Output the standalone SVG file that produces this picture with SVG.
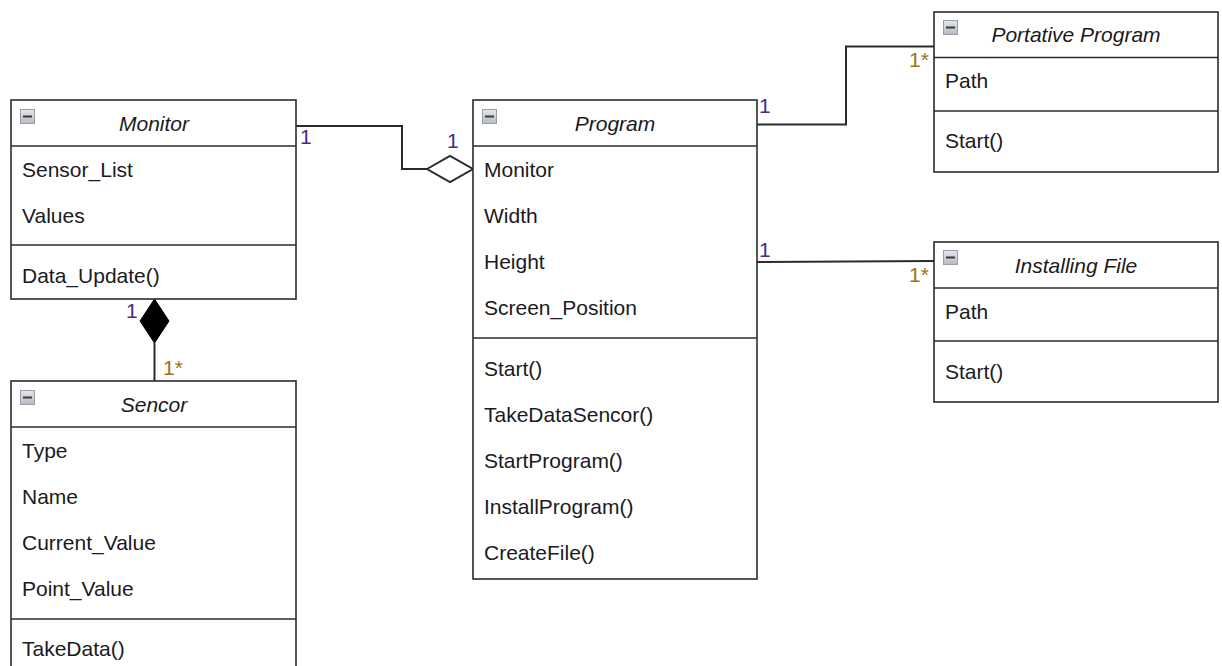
<svg xmlns="http://www.w3.org/2000/svg" width="1222" height="666" viewBox="0 0 1222 666">
  <defs>
    <linearGradient id="iconFill" x1="0" y1="0" x2="0" y2="1">
      <stop offset="0" stop-color="#e4e6ea"/>
      <stop offset="1" stop-color="#b7bbc2"/>
    </linearGradient>
    <!-- collapse toggle shown in each class header -->
    <g id="toggle">
      <rect x="0.5" y="0.5" width="14" height="14" fill="url(#iconFill)" stroke="#9a9ea6" stroke-width="1"/>
      <rect x="3" y="6.5" width="9" height="2" fill="#3a3a3a"/>
    </g>
  </defs>
  <style>
    .box { fill: #ffffff; stroke: #2b2b2b; stroke-width: 1.6; }
    .sep { stroke: #2b2b2b; stroke-width: 1.6; }
    .title { font-family: "Liberation Sans", Arial, sans-serif; font-size: 21px; font-style: italic; fill: #1a1a22; text-anchor: middle; }
    .item { font-family: "Liberation Sans", Arial, sans-serif; font-size: 21px; fill: #1a1a22; }
    .link { fill: none; stroke: #2b2b2b; stroke-width: 2; }
    .one { font-family: "Liberation Sans", Arial, sans-serif; font-size: 21px; fill: #4a2a8a; }
    .many { font-family: "Liberation Sans", Arial, sans-serif; font-size: 21px; fill: #9a7418; }
  </style>
  <rect width="1222" height="666" fill="#ffffff"/>

  <!-- connectors -->
  <g id="connectors">
    <!-- Monitor to Program: aggregation -->
    <polyline class="link" points="296,126 402,126 402,169 427,169"/>
    <polygon points="427,169 450,156 473,169 450,182" fill="#ffffff" stroke="#2b2b2b" stroke-width="2"/>
    <text class="one" x="300" y="144">1</text>
    <text class="one" x="447" y="148">1</text>

    <!-- Monitor to Sencor: composition -->
    <line class="link" x1="154.5" y1="343" x2="154.5" y2="381"/>
    <polygon points="154.5,299 169,321 154.5,343 140,321" fill="#000000" stroke="#000000" stroke-width="1"/>
    <text class="one" x="126" y="318">1</text>
    <text class="many" x="163" y="375">1*</text>

    <!-- Program to Portative Program -->
    <polyline class="link" points="757,124.5 846,124.5 846,46.5 934,46.5"/>
    <text class="one" x="759" y="113">1</text>
    <text class="many" x="909" y="67">1*</text>

    <!-- Program to Installing File -->
    <line class="link" x1="757" y1="262" x2="934" y2="261"/>
    <text class="one" x="759" y="257">1</text>
    <text class="many" x="909" y="282">1*</text>
  </g>

  <!-- Monitor -->
  <g id="monitor">
    <rect class="box" x="11" y="100" width="285" height="199"/>
    <line class="sep" x1="11" y1="146" x2="296" y2="146"/>
    <line class="sep" x1="11" y1="245" x2="296" y2="245"/>
    <use href="#toggle" x="20" y="109"/>
    <text class="title" x="154" y="131">Monitor</text>
    <text class="item" x="22" y="177">Sensor_List</text>
    <text class="item" x="22" y="223">Values</text>
    <text class="item" x="22" y="283">Data_Update()</text>
  </g>

  <!-- Sencor -->
  <g id="sencor">
    <rect class="box" x="11" y="381" width="285" height="300"/>
    <line class="sep" x1="11" y1="427" x2="296" y2="427"/>
    <line class="sep" x1="11" y1="619" x2="296" y2="619"/>
    <use href="#toggle" x="20" y="390"/>
    <text class="title" x="154" y="412">Sencor</text>
    <text class="item" x="22" y="458">Type</text>
    <text class="item" x="22" y="504">Name</text>
    <text class="item" x="22" y="550">Current_Value</text>
    <text class="item" x="22" y="596">Point_Value</text>
    <text class="item" x="22" y="656">TakeData()</text>
  </g>

  <!-- Program -->
  <g id="program">
    <rect class="box" x="473" y="100" width="284" height="479"/>
    <line class="sep" x1="473" y1="146" x2="757" y2="146"/>
    <line class="sep" x1="473" y1="338" x2="757" y2="338"/>
    <use href="#toggle" x="482" y="109"/>
    <text class="title" x="615" y="131">Program</text>
    <text class="item" x="484" y="177">Monitor</text>
    <text class="item" x="484" y="223">Width</text>
    <text class="item" x="484" y="269">Height</text>
    <text class="item" x="484" y="315">Screen_Position</text>
    <text class="item" x="484" y="376">Start()</text>
    <text class="item" x="484" y="422">TakeDataSencor()</text>
    <text class="item" x="484" y="468">StartProgram()</text>
    <text class="item" x="484" y="514">InstallProgram()</text>
    <text class="item" x="484" y="560">CreateFile()</text>
  </g>

  <!-- Portative Program -->
  <g id="portative-program">
    <rect class="box" x="934" y="12" width="284" height="160"/>
    <line class="sep" x1="934" y1="57.5" x2="1218" y2="57.5"/>
    <line class="sep" x1="934" y1="111" x2="1218" y2="111"/>
    <use href="#toggle" x="943" y="20"/>
    <text class="title" x="1076" y="42">Portative Program</text>
    <text class="item" x="945" y="88">Path</text>
    <text class="item" x="945" y="148">Start()</text>
  </g>

  <!-- Installing File -->
  <g id="installing-file">
    <rect class="box" x="934" y="242" width="284" height="160"/>
    <line class="sep" x1="934" y1="288" x2="1218" y2="288"/>
    <line class="sep" x1="934" y1="341" x2="1218" y2="341"/>
    <use href="#toggle" x="943" y="250"/>
    <text class="title" x="1076" y="273">Installing File</text>
    <text class="item" x="945" y="319">Path</text>
    <text class="item" x="945" y="379">Start()</text>
  </g>
</svg>
